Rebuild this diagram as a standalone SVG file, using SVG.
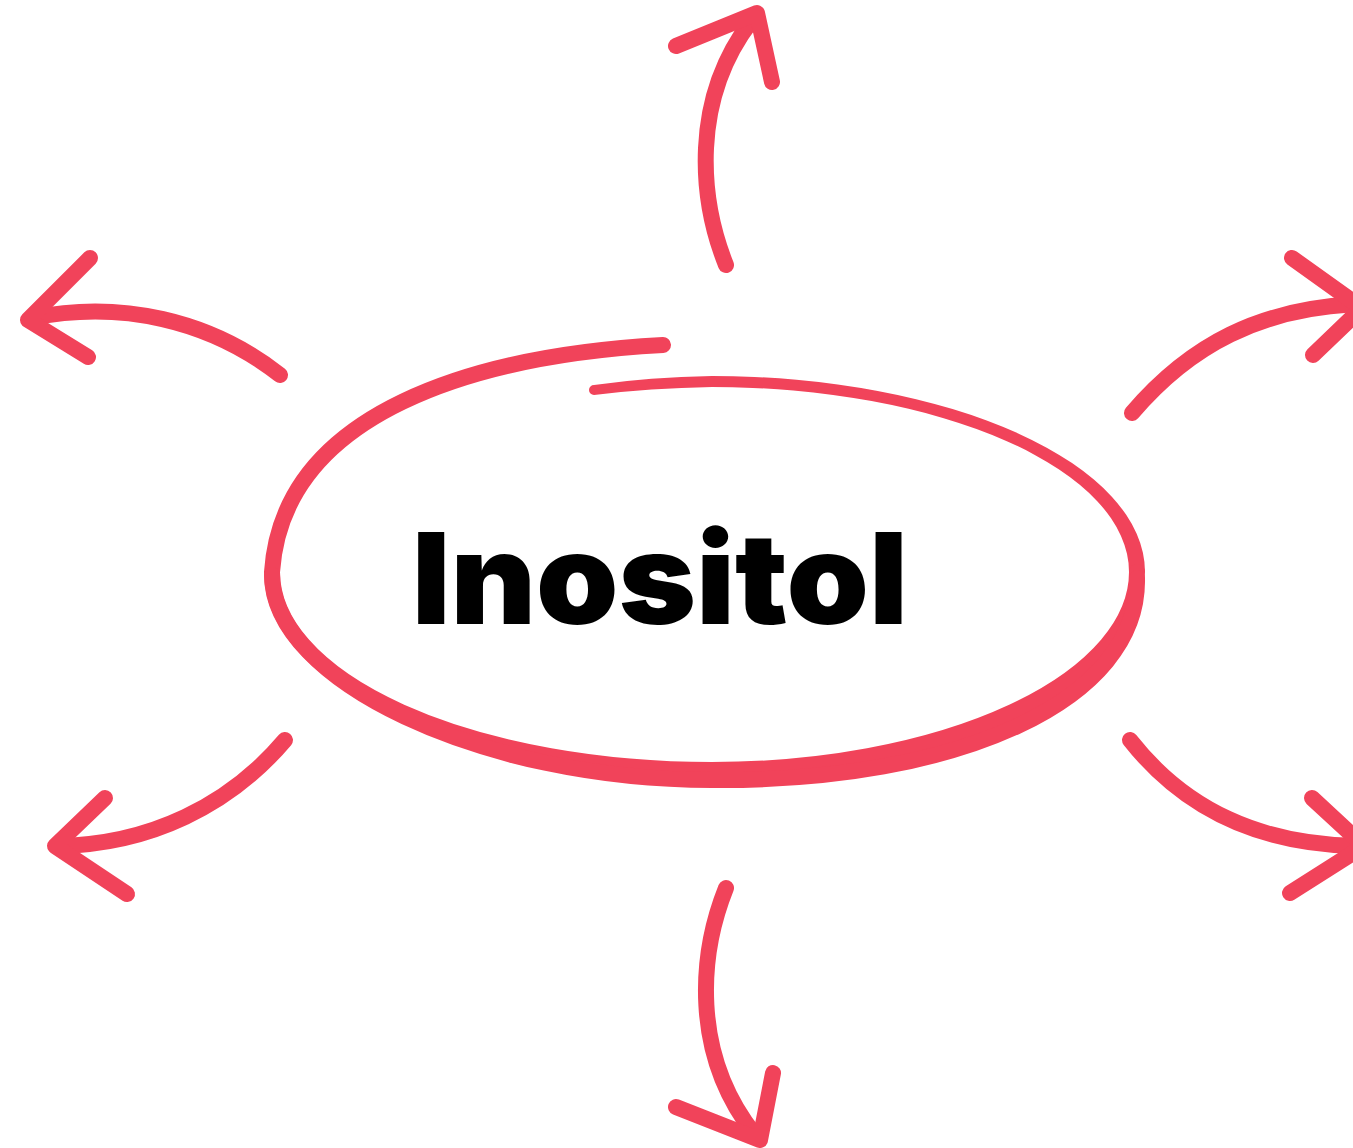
<svg xmlns="http://www.w3.org/2000/svg" width="1353" height="1148" viewBox="0 0 1353 1148">
  <style>
    .ink { fill: none; stroke: #F1435A; stroke-width: 16; stroke-linecap: round; stroke-linejoin: round; }
    .solid { fill: #F1435A; stroke: none; }
    .title { font-family: "Inter", "Liberation Sans", sans-serif; font-weight: 900; font-size: 127px; fill: #000000; }
  </style>
  <rect width="1353" height="1148" fill="#FFFFFF"/>

  <!-- central hand-drawn loop with the label -->
  <g id="node-inositol">
    <!-- thin upper-right lap of the loop -->
    <path class="solid" d="M594,385 Q650,377 712,376 A433,196 0 0 1 1145,572 L1129,572 A417,185 0 0 0 712,387 Q650,388 594,395 A5,5 0 0 1 594,385 Z"/>
    <!-- main stroke: upper-left sweep, round the bottom, up to the right -->
    <path class="ink" d="M663,345 C480,355 283,410 272,572 A440,198 0 0 0 712,770 A425,198 0 0 0 1137,572"/>
    <!-- second pass along the bottom, pressing the lower edge wider -->
    <path class="ink" d="M272,575 C272,680 480,780 712,780 C960,782 1140,700 1137,578"/>
    <text class="title" x="412" y="624" textLength="496" lengthAdjust="spacingAndGlyphs">Inositol</text>
  </g>

  <!-- outward arrows -->
  <g id="connectors">
    <g id="arrow-up">
      <path class="ink" d="M726,265 C700,200 690,100 752,20"/>
      <path class="ink" d="M676,46 L757,13 L772,82"/>
    </g>
    <g id="arrow-down">
      <path class="ink" d="M726,888 C700,953 690,1053 755,1135"/>
      <path class="ink" d="M676,1107 L760,1140 L773,1073"/>
    </g>
    <g id="arrow-upper-left">
      <path class="ink" d="M280,375 C210,320 120,300 32,318"/>
      <path class="ink" d="M90,258 L28,320 L88,357"/>
    </g>
    <g id="arrow-lower-left">
      <path class="ink" d="M285,740 C230,805 150,845 56,846"/>
      <path class="ink" d="M105,798 L55,846 L127,894"/>
    </g>
    <g id="arrow-upper-right">
      <path class="ink" d="M1132,413 C1190,345 1260,308 1360,304"/>
      <path class="ink" d="M1292,258 L1362,308 L1313,355"/>
    </g>
    <g id="arrow-lower-right">
      <path class="ink" d="M1130,740 C1185,810 1260,845 1360,846"/>
      <path class="ink" d="M1312,798 L1364,846 L1290,893"/>
    </g>
  </g>
</svg>
